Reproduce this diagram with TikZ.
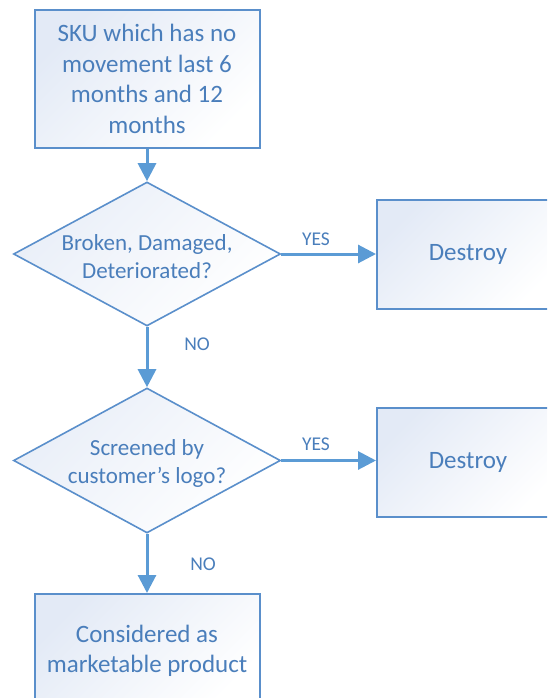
\documentclass[tikz,border=0pt]{standalone}
\usepackage{fontspec}
\setmainfont{Carlito}
\usetikzlibrary{shapes.geometric,arrows.meta}
\definecolor{flowblue}{HTML}{5B9BD5}
\definecolor{edgeblue}{HTML}{5A8FCB}
\definecolor{textblue}{HTML}{4A7EBB}
\definecolor{shadeblue}{HTML}{E3EAF6}
\tikzset{
  procbox/.style={draw=edgeblue, line width=2pt, top color=shadeblue, bottom color=white,
    shading angle=45, inner sep=0pt, text=textblue, align=center,
    font=\fontsize{25}{30.5}\selectfont},
  decision/.style={diamond, draw=edgeblue, line width=1.6pt, top color=shadeblue!80,
    bottom color=white, shading angle=45, inner sep=0pt},
  decisiontext/.style={text=textblue, align=center, font=\fontsize{23}{28}\selectfont},
  flow/.style={draw=flowblue, line width=3pt, -{Triangle[length=18pt,width=18pt]}},
  branch/.style={text=textblue, font=\fontsize{19.5}{23}\selectfont}
}
\begin{document}
\begin{tikzpicture}[x=1pt,y=-1pt]
\useasboundingbox (0,0) rectangle (547,698);
\clip (0,0) rectangle (547,698);

% process boxes
\node[procbox, minimum width=225pt, minimum height=138pt] (sku) at (147,79)
  {SKU which has no\\movement last 6\\months and 12\\months};
\node[procbox, minimum width=182pt, minimum height=109pt] (destroyA) at (468,254.5) {Destroy};
\node[procbox, minimum width=182pt, minimum height=109pt] (destroyB) at (468,462) {Destroy};
\node[procbox, minimum width=225pt, minimum height=114pt] (market) at (147,651)
  {Considered as\\marketable product};

% decisions
\node[decision, minimum width=267pt, minimum height=144pt] (broken) at (147,254) {};
\node[decisiontext] (brokentext) at (147,257) {Broken, Damaged,\\Deteriorated?};
\node[decision, minimum width=267pt, minimum height=145pt] (logo) at (147,460.5) {};
\node[decisiontext] (logotext) at (147,463) {Screened by\\customer’s logo?};

% connectors
\draw[flow] (sku.south) -- (broken.north);
\draw[flow] (broken.east) -- (destroyA.west |- broken.east);
\draw[flow] (broken.south) -- (logo.north);
\draw[flow] (logo.east) -- (destroyB.west |- logo.east);
\draw[flow] (logo.south) -- (market.north);

% branch labels
\node[branch] (yesA) at (316,239) {YES};
\node[branch] (noA) at (197,344) {NO};
\node[branch] (yesB) at (316,444) {YES};
\node[branch] (noB) at (203,564) {NO};
\end{tikzpicture}
\end{document}
